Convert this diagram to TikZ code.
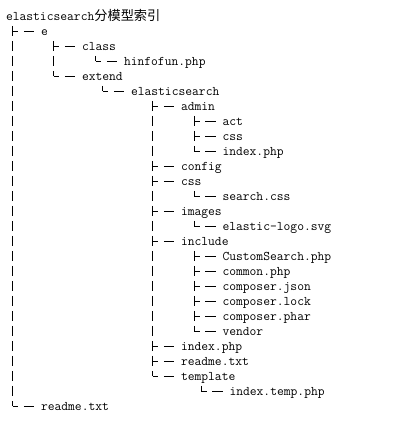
\documentclass[tikz,border=0pt]{standalone}
\usepackage{fontspec}
\newfontfamily\cjkfont{Noto Sans CJK SC}
\usetikzlibrary{calc}
\newcommand\twig[1]{\draw[tick] ($(#1.base west)+(-28.5,-4.5)$) -- ++(5.7,0) ($(#1.base west)+(-17.2,-4.5)$) -- ++(10.6,0);}
\newcommand\spinefromto[2]{\draw[spine] ($(#1.base west)+(-28.5,-10)$) -- ($(#2.base west)+(-28.5,-4.5)$);}
\begin{document}
\begin{tikzpicture}[x=1pt,y=-1pt,
  lbl/.style={anchor=base west, inner sep=0pt, outer sep=0pt, font=\fontsize{13.2}{15}\selectfont\ttfamily},
  spine/.style={line width=1pt, dash pattern=on 10pt off 5pt},
  tick/.style={line width=1pt}]
\useasboundingbox[fill=white] (0,0) rectangle (401,431);
\node[lbl] (n0) at (6,20.5) {elasticsearch{\cjkfont 分模型索引}};
\node[lbl] (n1) at (41,35.8) {e};
\node[lbl] (n2) at (82,50.8) {class};
\node[lbl] (n3) at (124,65.8) {hinfofun.php};
\node[lbl] (n4) at (82,80.8) {extend};
\node[lbl] (n5) at (131,95.8) {elasticsearch};
\node[lbl] (n6) at (181,110.8) {admin};
\node[lbl] (n7) at (222.5,125.8) {act};
\node[lbl] (n8) at (222.5,140.8) {css};
\node[lbl] (n9) at (222.5,155.8) {index.php};
\node[lbl] (n10) at (181,170.8) {config};
\node[lbl] (n11) at (181,185.8) {css};
\node[lbl] (n12) at (222.5,200.8) {search.css};
\node[lbl] (n13) at (181,215.8) {images};
\node[lbl] (n14) at (222.5,230.8) {elastic-logo.svg};
\node[lbl] (n15) at (181,245.8) {include};
\node[lbl] (n16) at (222.5,260.8) {CustomSearch.php};
\node[lbl] (n17) at (222.5,275.8) {common.php};
\node[lbl] (n18) at (222.5,290.8) {composer.json};
\node[lbl] (n19) at (222.5,305.8) {composer.lock};
\node[lbl] (n20) at (222.5,320.8) {composer.phar};
\node[lbl] (n21) at (222.5,335.8) {vendor};
\node[lbl] (n22) at (181,350.8) {index.php};
\node[lbl] (n23) at (181,365.8) {readme.txt};
\node[lbl] (n24) at (181,380.8) {template};
\node[lbl] (n25) at (229.5,395.8) {index.temp.php};
\node[lbl] (n26) at (41,410.8) {readme.txt};
% vertical spines (parent -> last child)
\spinefromto{n1}{n26}
\spinefromto{n2}{n4}
\spinefromto{n3}{n3}
\spinefromto{n5}{n5}
\spinefromto{n6}{n24}
\spinefromto{n7}{n9}
\spinefromto{n12}{n12}
\spinefromto{n14}{n14}
\spinefromto{n16}{n21}
\spinefromto{n25}{n25}
% branches
\foreach \n in {n1,n2,n3,n4,n5,n6,n7,n8,n9,n10,n11,n12,n13,n14,n15,n16,n17,n18,n19,n20,n21,n22,n23,n24,n25,n26} {\twig{\n}}
\end{tikzpicture}
\end{document}
